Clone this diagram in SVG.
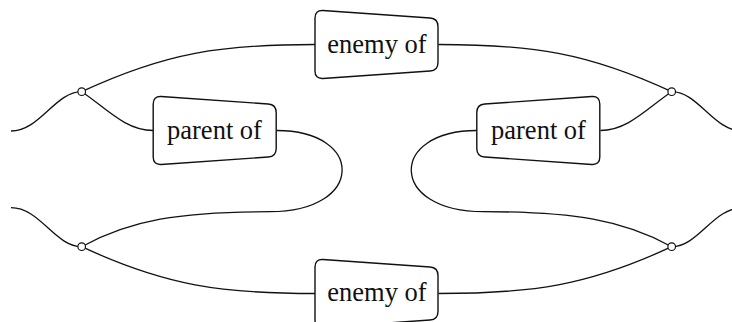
<svg xmlns="http://www.w3.org/2000/svg" xmlns:xlink="http://www.w3.org/1999/xlink" width="732" height="322" viewBox="0 0 732 322">
<style>
.conn{fill:none;stroke:#111;stroke-width:1.3}
.box{fill:#fff;stroke:#111;stroke-width:1.4}
.dot{fill:#fff;stroke:#111;stroke-width:1.2}
.lbl{font-family:"Liberation Serif","Times New Roman",serif;font-size:26.5px;fill:#111;text-anchor:middle}
</style>
<defs>
<path id="trap" d="M -61.5 -26.5 Q -61.5 -34.5 -53.52 -33.95 L 53.52 -26.55 Q 61.5 -26 61.5 -18 L 61.5 18 Q 61.5 26 53.52 26.55 L -53.52 33.95 Q -61.5 34.5 -61.5 26.5 Z"/>
</defs>
<rect width="732" height="322" fill="#fff"/>
<g id="connectors">
<path class="conn" d="M 11 131 C 40 131 55 91.7 81.7 91.7"/>
<path class="conn" d="M 81.7 91.7 C 166 52.4 222 44.5 315 44.5"/>
<path class="conn" d="M 81.7 91.7 C 105 107 125 130.5 153 130.5"/>
<path class="conn" d="M 276.7 130.5 C 365 130.5 365 211.7 270 211.7 C 180 211.7 130 220 81.7 246.7"/>
<path class="conn" d="M 11 207.7 C 40 207.7 55 246.7 81.7 246.7"/>
<path class="conn" d="M 81.7 246.7 C 166 286 222 293.5 315 293.5"/>
<path class="conn" d="M 742.4 131 C 713.4 131 698.4 91.7 671.7 91.7"/>
<path class="conn" d="M 671.7 91.7 C 587.4 52.4 531.4 44.5 438.4 44.5"/>
<path class="conn" d="M 671.7 91.7 C 648.4 107 628.4 130.5 600.4 130.5"/>
<path class="conn" d="M 476.7 130.5 C 388.4 130.5 388.4 211.7 483.4 211.7 C 573.4 211.7 623.4 220 671.7 246.7"/>
<path class="conn" d="M 742.4 207.7 C 713.4 207.7 698.4 246.7 671.7 246.7"/>
<path class="conn" d="M 671.7 246.7 C 587.4 286 531.4 293.5 438.4 293.5"/>
</g>
<g id="junction-tl"><circle class="dot" cx="81.7" cy="91.7" r="3.8"/></g>
<g id="junction-tr"><circle class="dot" cx="671.7" cy="91.7" r="3.8"/></g>
<g id="junction-bl"><circle class="dot" cx="81.7" cy="246.7" r="3.8"/></g>
<g id="junction-br"><circle class="dot" cx="671.7" cy="246.7" r="3.8"/></g>
<g id="enemy-top">
<use xlink:href="#trap" href="#trap" class="box" transform="translate(376.5,44.5)"/>
<text class="lbl" x="377" y="53">enemy of</text>
</g>
<g id="parent-left">
<use xlink:href="#trap" href="#trap" class="box" transform="translate(214.7,130.5)"/>
<text class="lbl" x="214.5" y="139">parent of</text>
</g>
<g id="parent-right">
<use xlink:href="#trap" href="#trap" class="box" transform="translate(538.3,130.5) scale(-1,1)"/>
<text class="lbl" x="538.5" y="139">parent of</text>
</g>
<g id="enemy-bottom">
<use xlink:href="#trap" href="#trap" class="box" transform="translate(376.5,293.5)"/>
<text class="lbl" x="377" y="301">enemy of</text>
</g>
</svg>
